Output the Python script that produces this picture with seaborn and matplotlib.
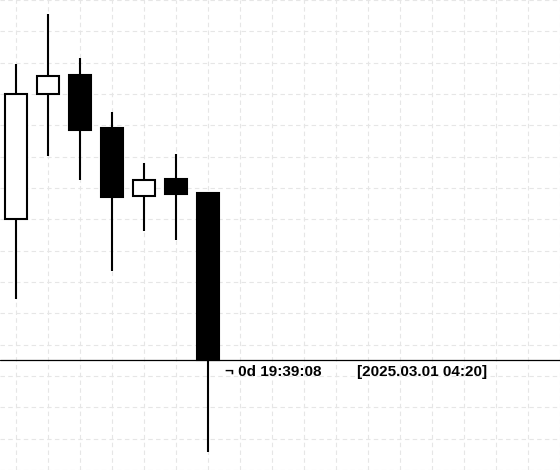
import numpy as np
import matplotlib
matplotlib.use("Agg")
import matplotlib.pyplot as plt
import seaborn as sns

# --- candle data ---
opens = [2824.00, 2856.00, 2860.75, 2847.25, 2830.00, 2834.25, 2830.75]
highs = [2863.75, 2876.50, 2865.25, 2851.50, 2838.50, 2840.75, 2830.75]
lows = [2803.75, 2840.25, 2834.00, 2810.75, 2821.00, 2818.75, 2764.50]
closes = [2856.00, 2860.50, 2846.75, 2829.75, 2834.00, 2830.50, 2788.00]

countdown_label = "\u00ac 0d 19:39:08"
time_label = "[2025.03.01 04:20]"

sns.set_theme(style="white")
plt.rcParams['font.family'] = ['Liberation Sans', 'DejaVu Sans']

fig = plt.figure(figsize=(5.6, 4.7), dpi=100)
ax = fig.add_axes([0, 0, 1, 1])

x = np.arange(len(opens))
o = np.array(opens)
c = np.array(closes)
bull = c >= o

# wicks
ax.vlines(x, lows, highs, color="black", linewidth=1.5, zorder=2)

# bodies
ax.bar(x, np.abs(c - o), bottom=np.minimum(o, c), width=0.6875,
       color=np.where(bull, "white", "black"), edgecolor="black",
       linewidth=1.5, zorder=3)

# current price line
ax.axhline(closes[-1], color="black", linewidth=0.9, zorder=4)

ax.text(6.53, 2784.0, countdown_label, fontsize=11, fontweight="bold",
        va="baseline", ha="left", color="black")
ax.text(10.66, 2784.0, time_label, fontsize=11, fontweight="bold",
        va="baseline", ha="left", color="black")

# grid
ax.set_xlim(-0.5, 17.0)
ax.set_ylim(2760.75, 2878.25)
ax.set_xticks(np.arange(0, 18))
ax.set_yticks(np.arange(2760, 2881, 8))
ax.grid(True, color="#e6e6e6", linestyle=(0, (4, 3)), linewidth=0.8, zorder=0)
ax.tick_params(left=False, bottom=False, labelleft=False, labelbottom=False)
for s in ax.spines.values():
    s.set_visible(False)

fig.savefig("out.png", dpi=100)
